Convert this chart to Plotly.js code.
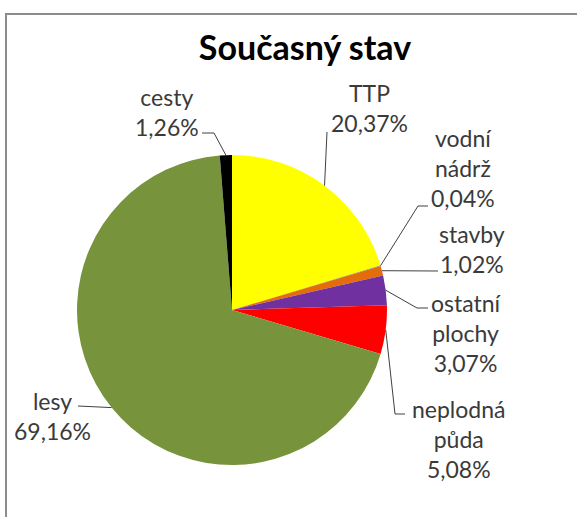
<!DOCTYPE html>
<html>
<head>
<meta charset="utf-8">
<script src="https://cdn.plot.ly/plotly-3.0.1.min.js"></script>
<style>
  html, body { margin: 0; padding: 0; background: #ffffff; }
  #chart { width: 577px; height: 517px; }
</style>
</head>
<body>
<div id="chart"></div>
<script>
// ---- data ----
const categories = ["TTP", "vodní nádrž", "stavby", "ostatní plochy", "neplodná půda", "lesy", "cesty"];
const labelTexts = ["TTP<br>20,37%", "vodní<br>nádrž<br>0,04%", "stavby<br>1,02%", "ostatní<br>plochy<br>3,07%", "neplodná<br>půda<br>5,08%", "lesy<br>69,16%", "cesty<br>1,26%"];
const shares = [20.37, 0.04, 1.02, 3.07, 5.08, 69.16, 1.26];
const chartTitle = "Současný stav";

// ---- styling / layout (pixel positions) ----
const W = 577, H = 517;
const colors = ["#FFFF00", "#4F81BD", "#E46C0A", "#7030A0", "#FF0000", "#77933C", "#000000"];
const pieCx = 232, pieCy = 310, pieR = 155;
// label block centres [x, y] in px
const labelPos = [[369,108],[463,168],[472,249],[466,333],[459,439],[52,416],[167,112]];
// leader line: elbow point and end point in px (null elbow = straight)
const leaderElbow = [null, [418,206], null, [417,308], [395,414], null, [214,133]];
const leaderEnd = [[327,132], [428,206], [438,271], [428,308], [405,414], [78,406], [202,133]];

const px = x => x / W;
const py = y => 1 - y / H;

// slice mid angles from the data (clockwise from 12 o'clock)
const total = shares.reduce((a, b) => a + b, 0);
let cum = 0;
const shapes = [];
const annotations = [];
shares.forEach((v, i) => {
  const mid = (cum + v / 2) / total * 2 * Math.PI;
  cum += v;
  const ex = pieCx + pieR * Math.sin(mid);
  const ey = pieCy - pieR * Math.cos(mid);
  let path = `M ${px(ex)},${py(ey)}`;
  if (leaderElbow[i]) path += ` L ${px(leaderElbow[i][0])},${py(leaderElbow[i][1])}`;
  path += ` L ${px(leaderEnd[i][0])},${py(leaderEnd[i][1])}`;
  shapes.push({type: 'path', xref: 'paper', yref: 'paper', path: path,
               line: {color: '#404040', width: 1}});
  annotations.push({xref: 'paper', yref: 'paper', x: px(labelPos[i][0]), y: py(labelPos[i][1]),
                    xanchor: 'center', yanchor: 'middle', showarrow: false, align: 'center',
                    text: labelTexts[i],
                    font: {family: 'Lato, "Open Sans", sans-serif', size: 23, color: '#3a3a3a'}});
});

// chart-area border (top and left visible)
shapes.push({type: 'line', xref: 'paper', yref: 'paper', x0: px(5), x1: 1, y0: py(14), y1: py(14),
             line: {color: '#8c8c8c', width: 2}});
shapes.push({type: 'line', xref: 'paper', yref: 'paper', x0: px(6), x1: px(6), y0: py(13), y1: 0,
             line: {color: '#8c8c8c', width: 2}});

const trace = {
  type: 'pie',
  labels: categories,
  values: shares,
  sort: false,
  direction: 'clockwise',
  rotation: 0,
  textinfo: 'none',
  hoverinfo: 'label+percent',
  marker: {colors: colors, line: {width: 0}},
  domain: {x: [px(pieCx - pieR), px(pieCx + pieR)], y: [py(pieCy + pieR), py(pieCy - pieR)]},
  showlegend: false
};

const layout = {
  width: W, height: H,
  margin: {l: 0, r: 0, t: 0, b: 0},
  paper_bgcolor: '#ffffff',
  plot_bgcolor: '#ffffff',
  showlegend: false,
  title: {text: '<b>' + chartTitle + '</b>', x: px(305), xanchor: 'center', xref: 'paper',
          y: 1 - 48 / H, yanchor: 'middle', yref: 'container',
          font: {family: 'Lato, "Open Sans", sans-serif', size: 34, color: '#000000'}},
  shapes: shapes,
  annotations: annotations
};

Plotly.newPlot('chart', [trace], layout, {displayModeBar: false, staticPlot: true});
</script>
</body>
</html>
